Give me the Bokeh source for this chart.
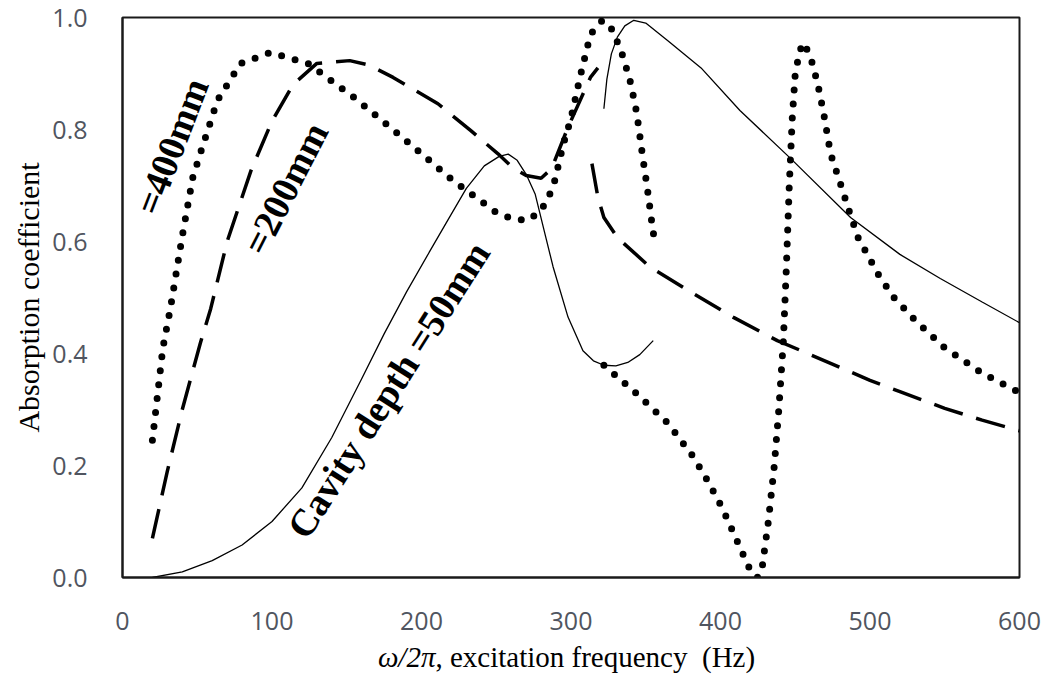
from bokeh.plotting import figure
from bokeh.models import ColumnDataSource, FixedTicker, NumeralTickFormatter, Div
from bokeh.layouts import column
from bokeh.core.properties import value
from bokeh.embed import file_html
from bokeh.resources import INLINE
import math

# ---------------- data ----------------
# Cavity depth = 50 mm (thin solid), two branches
solid_a_freq = [20, 40, 60, 80, 100, 120, 140, 160, 175, 190, 205, 218, 230, 242, 252, 258, 264, 270, 276, 282, 288, 298, 308, 315, 322, 330, 338, 346, 355]
solid_a_abs = [0.0, 0.01, 0.03, 0.058, 0.1, 0.16, 0.25, 0.355, 0.435, 0.51, 0.58, 0.64, 0.695, 0.735, 0.752, 0.756, 0.745, 0.72, 0.685, 0.62, 0.555, 0.465, 0.405, 0.387, 0.379, 0.378, 0.384, 0.398, 0.423]
solid_b_freq = [322, 324, 327, 331, 336, 342, 350, 365, 387, 413, 447, 487, 520, 547, 575, 600]
solid_b_abs = [0.837, 0.89, 0.935, 0.965, 0.985, 0.995, 0.99, 0.958, 0.91, 0.834, 0.748, 0.643, 0.577, 0.534, 0.492, 0.455]

# Cavity depth = 200 mm (dashed), two branches
dash_a_freq = [20, 30, 40, 52, 59, 70, 86, 100, 114, 130, 152, 165, 181, 211, 233, 251, 261, 270, 280, 287, 298, 313, 318]
dash_a_abs = [0.07, 0.19, 0.3, 0.418, 0.48, 0.6, 0.727, 0.815, 0.88, 0.918, 0.923, 0.915, 0.893, 0.846, 0.798, 0.757, 0.732, 0.718, 0.713, 0.73, 0.804, 0.893, 0.91]
dash_b_freq = [314, 318, 322, 331, 353, 382, 409, 438, 454, 480, 500, 520, 550, 575, 600]
dash_b_abs = [0.739, 0.679, 0.643, 0.607, 0.554, 0.507, 0.464, 0.423, 0.405, 0.375, 0.352, 0.332, 0.302, 0.281, 0.262]

# Cavity depth = 400 mm (dotted), two branches
dot_a_freq = [20, 27, 32, 40, 47, 52, 63.5, 79, 99, 124, 155, 184, 221, 251, 262, 271, 280, 288, 295, 300, 306, 313, 321, 328, 335, 340, 344, 348, 351, 354.5, 356]
dot_a_abs = [0.245, 0.41, 0.48, 0.61, 0.714, 0.757, 0.852, 0.918, 0.9375, 0.918, 0.857, 0.793, 0.709, 0.65, 0.64, 0.6375, 0.655, 0.696, 0.775, 0.82, 0.893, 0.97, 0.995, 0.977, 0.929, 0.882, 0.829, 0.75, 0.696, 0.625, 0.6]
dot_b_freq = [322, 344, 365, 382, 392, 401, 409, 417, 421, 425, 428, 432, 436, 439, 442, 444, 446, 448, 450, 453, 455.5, 460, 465, 469, 473.6, 480, 486, 492, 506, 516, 530, 550, 575, 600]
dot_b_abs = [0.379, 0.328, 0.275, 0.215, 0.17, 0.125, 0.078, 0.03, 0.007, 0.0, 0.02, 0.1, 0.2, 0.3, 0.42, 0.55, 0.7, 0.82, 0.9, 0.94, 0.955, 0.932, 0.882, 0.829, 0.757, 0.705, 0.655, 0.607, 0.539, 0.5, 0.46, 0.41, 0.365, 0.33]

x_ticks = [0, 100, 200, 300, 400, 500, 600]
y_ticks = [0.0, 0.2, 0.4, 0.6, 0.8, 1.0]

curve_labels = ["=400mm", "=200mm", "Cavity depth =50mm"]
label_freq = [33, 109, 178]
label_abs = [0.77, 0.695, 0.335]
label_angle_deg = [69, 63, 57.5]

# ---------------- figure ----------------
p = figure(width=1063, height=640, x_range=(0, 600), y_range=(0, 1.0),
           output_backend="svg", toolbar_location=None,
           min_border_left=122, min_border_right=44,
           min_border_top=17, min_border_bottom=63)
p.background_fill_color = "white"
p.border_fill_color = "white"
p.grid.visible = False
p.outline_line_color = "#1a1a1a"
p.outline_line_width = 2

tick_font = "Open Sans"
for ax in (p.xaxis[0], p.yaxis[0]):
    ax.major_tick_line_color = None
    ax.minor_tick_line_color = None
    ax.axis_line_color = "#1a1a1a"
    ax.axis_line_width = 2
    ax.major_label_text_font = tick_font
    ax.major_label_text_font_size = "25px"
    ax.major_label_text_color = "#505560"

p.xaxis.ticker = FixedTicker(ticks=x_ticks)
p.yaxis.ticker = FixedTicker(ticks=y_ticks)
p.yaxis.formatter = NumeralTickFormatter(format="0.0")
p.xaxis.major_label_standoff = 28
p.yaxis.major_label_standoff = 29

p.yaxis.axis_label = "Absorption coefficient"
p.yaxis.axis_label_text_font = "Liberation Serif"
p.yaxis.axis_label_text_font_style = "normal"
p.yaxis.axis_label_text_font_size = "30px"
p.yaxis.axis_label_text_color = "black"
p.yaxis.axis_label_standoff = 4

# curves
p.line(solid_a_freq, solid_a_abs, line_color="black", line_width=1.3)
p.line(solid_b_freq, solid_b_abs, line_color="black", line_width=1.3)
p.line(dash_a_freq, dash_a_abs, line_color="black", line_width=3.5, line_dash="30 14")
p.line(dash_b_freq, dash_b_abs, line_color="black", line_width=3.5, line_dash="30 14")
p.line(dot_a_freq, dot_a_abs, line_color="black", line_width=7, line_dash="0 14", line_cap="round")
p.line(dot_b_freq, dot_b_abs, line_color="black", line_width=7, line_dash="0 14", line_cap="round")

# rotated curve labels
src = ColumnDataSource(dict(x=label_freq, y=label_abs, text=curve_labels,
                            angle=[math.radians(a) for a in label_angle_deg]))
p.text(x="x", y="y", text="text", angle="angle", source=src,
       text_font=value("Liberation Serif"), text_font_style="bold",
       text_font_size="38px", text_align="center", text_baseline="middle",
       text_color="black")

# x-axis title (italic part + normal part) as real HTML text below the plot
xtitle = Div(
    text=("<div style=\"width:1063px; text-align:center; padding-left:70px; box-sizing:border-box;"
          " font-family:'Liberation Serif'; font-size:29px; line-height:34px; color:black;"
          " white-space:pre;\"><i>ω/2π</i>, excitation frequency  (Hz)</div>"),
    width=1063, height=45, margin=(0, 0, 0, 0))

layout = column(p, xtitle, spacing=0)
open("out.html", "w").write(file_html(layout, INLINE))
